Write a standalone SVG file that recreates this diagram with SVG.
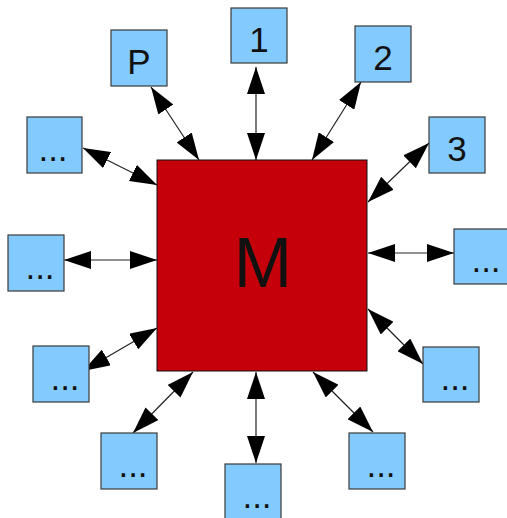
<svg xmlns="http://www.w3.org/2000/svg" width="507" height="518" viewBox="0 0 507 518">
  <style>
    .box { fill: #83caff; stroke: #3a3a3a; stroke-width: 1.2; }
    .hub { fill: #c5000b; stroke: #111; stroke-width: 1; }
    .lbl { font-family: "Liberation Sans", Arial, sans-serif; font-size: 35px; fill: #111; text-anchor: middle; }
    .big { font-family: "Liberation Sans", Arial, sans-serif; font-size: 70px; fill: #111; text-anchor: middle; }
    .link { stroke: #222; stroke-width: 1.2; fill: none; marker-start: url(#head); marker-end: url(#head); }
  </style>
  <defs>
    <marker id="head" markerUnits="userSpaceOnUse" markerWidth="27" markerHeight="18" refX="27" refY="9" orient="auto-start-reverse" viewBox="0 0 27 18">
      <path d="M0,0 L27,9 L0,18 z" fill="#000"/>
    </marker>
  </defs>

  <g id="connectors">
    <line class="link" x1="151" y1="87" x2="199" y2="160"/>
    <line class="link" x1="256" y1="67" x2="256" y2="160"/>
    <line class="link" x1="361" y1="82" x2="312" y2="160"/>
    <line class="link" x1="429" y1="143" x2="368" y2="202"/>
    <line class="link" x1="83" y1="148" x2="157" y2="185"/>
    <line class="link" x1="64" y1="260" x2="157" y2="260"/>
    <line class="link" x1="83" y1="371" x2="157" y2="328"/>
    <line class="link" x1="133" y1="433" x2="193" y2="372"/>
    <line class="link" x1="256" y1="372" x2="256" y2="463"/>
    <line class="link" x1="368" y1="253" x2="454" y2="253"/>
    <line class="link" x1="368" y1="309" x2="423" y2="364"/>
    <line class="link" x1="313" y1="372" x2="373" y2="432"/>
  </g>

  <g id="node-m">
    <rect class="hub" x="157" y="160" width="210" height="211"/>
    <text class="big" x="263" y="287">M</text>
  </g>

  <g id="node-p">
    <rect class="box" x="111" y="30" width="56" height="56"/>
    <text class="lbl" x="139" y="74">P</text>
  </g>
  <g id="node-1">
    <rect class="box" x="231" y="8" width="56" height="55"/>
    <text class="lbl" x="259" y="52">1</text>
  </g>
  <g id="node-2">
    <rect class="box" x="355" y="26" width="56" height="56"/>
    <text class="lbl" x="383" y="70">2</text>
  </g>
  <g id="node-3">
    <rect class="box" x="429" y="117" width="56" height="56"/>
    <text class="lbl" x="457" y="161">3</text>
  </g>
  <g id="node-left-top">
    <rect class="box" x="27" y="117" width="55" height="56"/>
    <text class="lbl" x="53" y="161">...</text>
  </g>
  <g id="node-left-mid">
    <rect class="box" x="8" y="235" width="56" height="56"/>
    <text class="lbl" x="40" y="279">...</text>
  </g>
  <g id="node-left-low">
    <rect class="box" x="33" y="346" width="56" height="56"/>
    <text class="lbl" x="65" y="390">...</text>
  </g>
  <g id="node-bottom-left">
    <rect class="box" x="101" y="433" width="56" height="56"/>
    <text class="lbl" x="133" y="477">...</text>
  </g>
  <g id="node-bottom">
    <rect class="box" x="225" y="464" width="56" height="56"/>
    <text class="lbl" x="257" y="508">...</text>
  </g>
  <g id="node-bottom-right">
    <rect class="box" x="349" y="433" width="56" height="56"/>
    <text class="lbl" x="381" y="477">...</text>
  </g>
  <g id="node-right-low">
    <rect class="box" x="423" y="347" width="56" height="55"/>
    <text class="lbl" x="455" y="390">...</text>
  </g>
  <g id="node-right-mid">
    <rect class="box" x="454" y="229" width="56" height="55"/>
    <text class="lbl" x="486" y="272">...</text>
  </g>
</svg>
